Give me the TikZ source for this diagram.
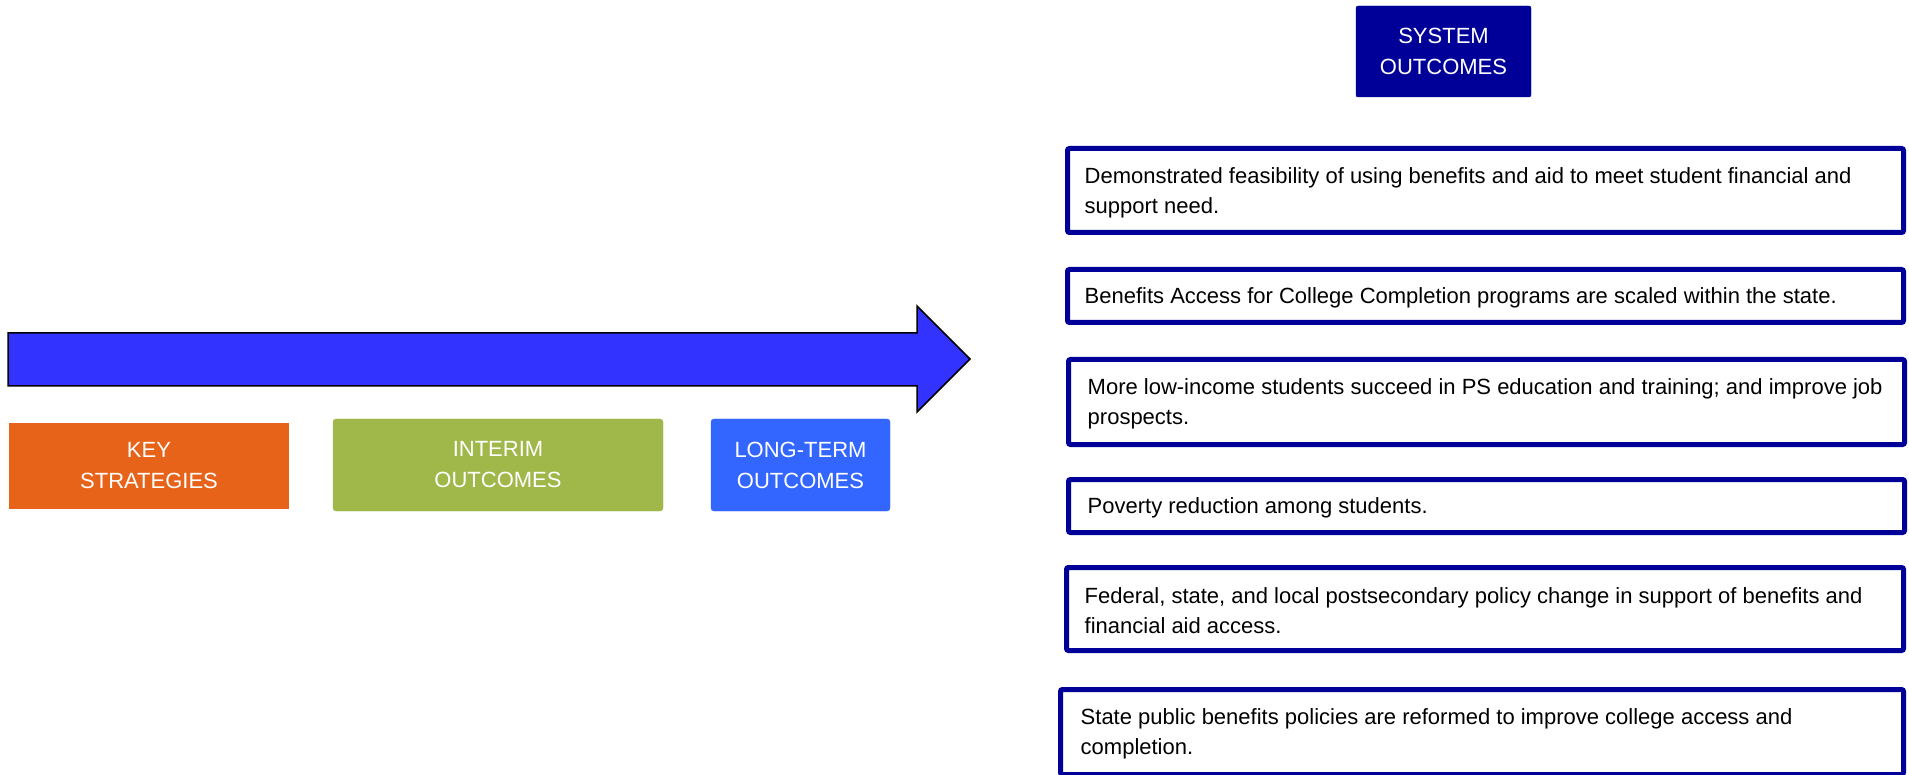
\documentclass[tikz,border=0pt]{standalone}
\usepackage{fontspec}
\setmainfont{Liberation Sans}
\definecolor{navy}{RGB}{0,0,153}
\definecolor{stratorange}{RGB}{232,99,26}
\definecolor{interimgreen}{RGB}{160,184,74}
\definecolor{longblue}{RGB}{51,102,255}
\definecolor{arrowblue}{RGB}{51,51,255}
\begin{document}
\begin{tikzpicture}[x=1pt,y=-1pt,
  headbox/.style={text=white, align=center, inner sep=0pt,
    font=\fontsize{22}{31}\selectfont},
  outbox/.style={draw=navy, line width=5pt, rounded corners=2pt, inner sep=0pt},
  outtext/.style={anchor=west, align=left, inner sep=0pt, text=black, yshift=-2pt,
    font=\fontsize{22}{30}\selectfont},
]
% canvas
\fill[white] (0,0) rectangle (1909,775);
\useasboundingbox (0,0) rectangle (1909,775);

% timeline arrow
\draw[fill=arrowblue, draw=black, line width=1.5pt, line join=miter]
  (8,333) -- (917,333) -- (917,306) -- (970,359) -- (917,412) -- (917,386) -- (8,386) -- cycle;

% stage headings
\node[headbox, fill=stratorange, minimum width=280pt, minimum height=86pt] (key) at (149,466) {KEY\\STRATEGIES};
\node[headbox, fill=interimgreen, draw=interimgreen, rounded corners=3pt, minimum width=330pt, minimum height=92pt] (interim) at (498,465) {INTERIM\\OUTCOMES};
\node[headbox, fill=longblue, draw=longblue, rounded corners=3pt, minimum width=179pt, minimum height=92pt] (longterm) at (800.5,465) {LONG-TERM\\OUTCOMES};
\node[headbox, fill=navy, draw=navy, rounded corners=2pt, minimum width=175pt, minimum height=91pt] (system) at (1443.5,51.5) {SYSTEM\\OUTCOMES};

% system outcome boxes
\node[outbox, minimum width=836pt, minimum height=84pt] (o1) at (1485.5,190.5) {};
\node[outtext] (t1) at ([xshift=19.5pt]o1.west) {Demonstrated feasibility of using benefits and aid to meet student financial and\\support need.};

\node[outbox, minimum width=836pt, minimum height=53pt] (o2) at (1485.5,296) {};
\node[outtext] (t2) at ([xshift=19.5pt]o2.west) {Benefits Access for College Completion programs are scaled within the state.};

\node[outbox, minimum width=836pt, minimum height=85pt] (o3) at (1486.5,402) {};
\node[outtext] (t3) at ([xshift=21.5pt]o3.west) {More low-income students succeed in PS education and training; and improve job\\prospects.};

\node[outbox, minimum width=836pt, minimum height=53pt] (o4) at (1486.5,506) {};
\node[outtext] (t4) at ([xshift=21.5pt]o4.west) {Poverty reduction among students.};

\node[outbox, minimum width=837pt, minimum height=83pt] (o5) at (1485,609) {};
\node[outtext] (t5) at ([xshift=20.5pt]o5.west) {Federal, state, and local postsecondary policy change in support of benefits and\\financial aid access.};

\node[outbox, minimum width=843pt, minimum height=85pt] (o6) at (1482,732) {};
\node[outtext] (t6) at ([xshift=22.5pt]o6.west) {State public benefits policies are reformed to improve college access and\\completion.};
\end{tikzpicture}
\end{document}
